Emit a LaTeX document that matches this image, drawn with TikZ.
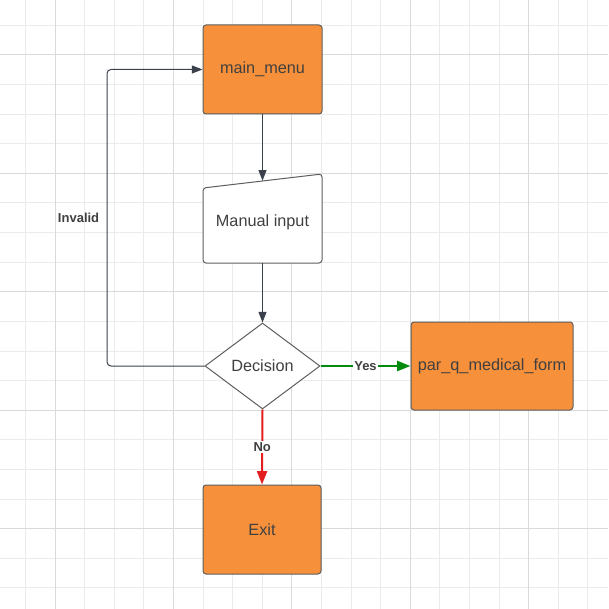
\documentclass[tikz,border=0pt]{standalone}
\usepackage{fontspec}
\setmainfont{Liberation Sans}
\usetikzlibrary{arrows.meta,calc,shapes.geometric}
\definecolor{boxorange}{HTML}{F7903A}
\definecolor{edgegray}{HTML}{5E5E5E}
\definecolor{textgray}{HTML}{404040}
\definecolor{linegray}{HTML}{3A414A}
\definecolor{yesgreen}{HTML}{008A0E}
\definecolor{nored}{HTML}{E31E1E}
\definecolor{gridminor}{HTML}{EBEBEB}
\definecolor{gridmajor}{HTML}{DADADA}
\def\boxfont{\fontsize{12.2}{14}\selectfont}
\def\labelfont{\fontsize{9.75}{11}\selectfont\bfseries}
\tikzset{
	procbox/.style={draw=edgegray, line width=0.75pt, fill=boxorange, rounded corners=2.25pt, inner sep=0pt, text=textgray, font=\boxfont},
	inputbox/.style={inner sep=0pt, text=textgray, font=\boxfont, minimum width=89.25pt, minimum height=61.5pt},
	decbox/.style={diamond, aspect=1.34, draw=edgegray, line width=0.75pt, fill=white, inner sep=0pt, text=textgray, font=\boxfont, minimum width=86.25pt, minimum height=64.5pt},
	flow/.style={draw=linegray, line width=0.75pt, -{Triangle[length=8pt,width=6pt]}},
	branch/.style={line width=1.5pt, -{Triangle[length=10pt,width=7.5pt]}},
	flowlabel/.style={text=textgray, font=\labelfont, inner sep=1pt}
}

\begin{document}
\begin{tikzpicture}[x=0.75pt, y=-0.75pt]
			%%%%% START %%%%%
			
			\useasboundingbox[fill=white] (0, 0) rectangle (608, 609);
			
			% grid
			\foreach \k in {0,...,19} {
				\draw[gridminor, line width=0.75pt] ({25.4+29.6*\k}, 0) -- ({25.4+29.6*\k}, 609);
				\draw[gridminor, line width=0.75pt] (0, {25.4+29.6*\k}) -- (608, {25.4+29.6*\k});
			}
			\foreach \k in {0,...,4} {
				\draw[gridmajor, line width=0.75pt] ({55+118.4*\k}, 0) -- ({55+118.4*\k}, 609);
				\draw[gridmajor, line width=0.75pt] (0, {55+118.4*\k}) -- (608, {55+118.4*\k});
			}
			
			\node[procbox, minimum width=89.25pt, minimum height=66.75pt] (menu) at (262.5, 69.5) {main\_menu};
			
			% manual input, slanted top
			\draw[draw=edgegray, line width=0.75pt, fill=white, rounded corners=2.25pt] (203, 263) -- (203, 188) -- (322, 174) -- (322, 263) -- cycle;
			\node[inputbox] (input) at (262.5, 222) {Manual input};
			
			\node[decbox] (decision) at (262.5, 366) {Decision};
			
			\node[procbox, minimum width=121.5pt, minimum height=66pt] (parq) at (492, 366) {par\_q\_medical\_form};
			
			\node[procbox, minimum width=88.5pt, minimum height=66.75pt] (exit) at (262, 529.5) {Exit};
			
			\coordinate (bend) at (107, 69.5);
			
			\draw[flow] (menu.south) -- (input.north);
			\draw[flow] (input.south) -- (decision.north);
			\draw[flow, branch, draw=yesgreen, fill=yesgreen] (decision.east) -- (parq.west) node[flowlabel, midway, fill=white] {Yes};
			\draw[flow, branch, draw=nored, fill=nored] (decision.south) -- (exit.north) node[flowlabel, midway, fill=white] {No};
			\draw[flow, rounded corners=3pt] (decision.west) -| (bend) node[flowlabel, pos=0.75, left=5.5pt, inner sep=0pt] {Invalid} -- (menu.west);
			
			%%%%% END %%%%%
		\end{tikzpicture}
\end{document}
